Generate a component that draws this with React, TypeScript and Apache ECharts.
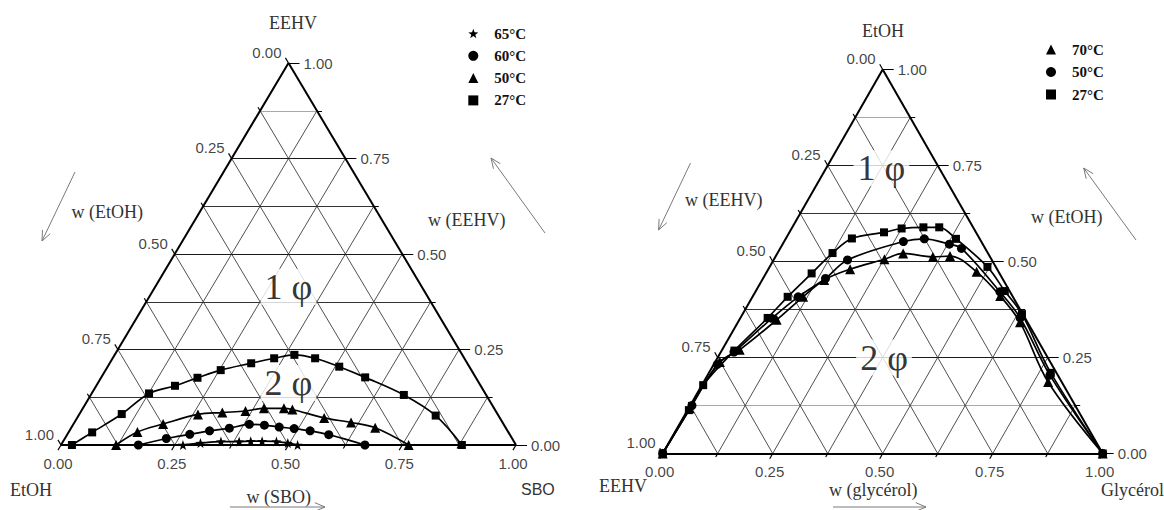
import React, { useEffect, useRef } from "react";
import * as echarts from "echarts";

// ---------------- data ----------------
// Left diagram: vertices EtOH (bottom-left), SBO (bottom-right), EEHV (top)
// every point is [w(SBO), w(EEHV)]
const leftNames = ["65°C", "60°C", "50°C", "27°C"];
const left65 = [
  [0.268, 0], [0.304, 0.005], [0.347, 0.009], [0.387, 0.009], [0.412, 0.01],
  [0.437, 0.01], [0.469, 0.009], [0.496, 0.005], [0.52, 0],
];
const left60 = [
  [0.17, 0], [0.223, 0.017], [0.269, 0.028], [0.308, 0.037], [0.348, 0.044],
  [0.387, 0.054], [0.421, 0.052], [0.456, 0.047], [0.491, 0.043], [0.529, 0.037],
  [0.575, 0.027], [0.668, 0],
];
const left50 = [
  [0.121, 0], [0.151, 0.034], [0.197, 0.055], [0.261, 0.08], [0.312, 0.085],
  [0.361, 0.089], [0.398, 0.096], [0.442, 0.096], [0.462, 0.093], [0.543, 0.071],
  [0.608, 0.059], [0.668, 0.045], [0.764, 0],
];
const left27 = [
  [0.024, 0], [0.052, 0.033], [0.093, 0.081], [0.126, 0.135], [0.173, 0.155],
  [0.212, 0.176], [0.253, 0.196], [0.311, 0.214], [0.355, 0.227], [0.395, 0.236],
  [0.445, 0.227], [0.509, 0.205], [0.58, 0.177], [0.688, 0.131], [0.785, 0.077],
  [0.881, 0],
];

// Right diagram: vertices EEHV (bottom-left), Glycérol (bottom-right), EtOH (top)
// every point is [w(glycérol), w(EtOH)]
const rightNames = ["70°C", "50°C", "27°C"];
const right70 = [
  [0, 0], [0.002, 0.118], [0.011, 0.238], [0.04, 0.27], [0.085, 0.348],
  [0.115, 0.408], [0.141, 0.452], [0.186, 0.48], [0.251, 0.506], [0.286, 0.521],
  [0.358, 0.512], [0.396, 0.514], [0.477, 0.473], [0.562, 0.41], [0.641, 0.342],
  [0.783, 0.186], [1, 0],
];
const right50 = [
  [0, 0], [0.004, 0.125], [0.008, 0.232], [0.03, 0.264], [0.072, 0.352],
  [0.104, 0.408], [0.142, 0.456], [0.168, 0.504], [0.271, 0.552], [0.315, 0.559],
  [0.379, 0.545], [0.412, 0.534], [0.556, 0.421], [0.636, 0.353], [0.778, 0.204],
  [1, 0],
];
const right27 = [
  [0, 0], [0.003, 0.113], [0.003, 0.178], [0.029, 0.268], [0.062, 0.353],
  [0.08, 0.408], [0.104, 0.469], [0.125, 0.522], [0.15, 0.56], [0.215, 0.576],
  [0.25, 0.586], [0.298, 0.589], [0.334, 0.589], [0.387, 0.559], [0.495, 0.486],
  [0.566, 0.423], [0.635, 0.363], [0.777, 0.21], [1, 0],
];

const majorTicks = [0, 0.25, 0.5, 0.75, 1];
const allTicks = [0, 0.125, 0.25, 0.375, 0.5, 0.625, 0.75, 0.875, 1];
const gridSteps = [0.125, 0.25, 0.375, 0.5, 0.625, 0.75, 0.875];

// ---------------- layout / style ----------------
const SERIF = '"Liberation Serif", "Times New Roman", serif';
const SANS = '"Liberation Sans", Arial, sans-serif';
const STAR =
  "path://M0,-10L2.35,-3.24L9.51,-3.09L3.8,1.24L5.88,8.09L0,4L-5.88,8.09L-3.8,1.24L-9.51,-3.09L-2.35,-3.24Z";
const PAD = 0.1;
const GEOM = [
  { xL: 61, W: 455, yB: 445, H: 382, light: [0.875] },
  { xL: 662.7, W: 440, yB: 453.5, H: 384, light: [0.875, 0.125] },
];

const toXY = (p: number[]) => [p[0] + p[1] / 2, p[1]];
const fmt = (v: number) => v.toFixed(2);

function frameSeries(i: number): any[] {
  const g = GEOM[i];
  const D = Math.sqrt(0.25 * g.W * g.W + g.H * g.H);
  const gridData: any[] = [];
  gridSteps.forEach((f) => {
    const light = g.light.indexOf(f) >= 0;
    const major = Math.abs(f * 4 - Math.round(f * 4)) < 1e-9;
    gridData.push({
      coords: [[f / 2, f], [1 - f / 2, f]],
      lineStyle: { color: light ? "#a8a8a8" : major ? "#1a1a1a" : "#333", width: major ? 1.2 : 1 },
    });
    gridData.push({ coords: [[f, 0], [f + (1 - f) / 2, 1 - f]], lineStyle: { color: "#3c3c3c", width: 0.9 } });
    gridData.push({ coords: [[1 - f, 0], [(1 - f) / 2, 1 - f]], lineStyle: { color: "#3c3c3c", width: 0.9 } });
  });
  const border = [
    [[0, 0], [1, 0]],
    [[1, 0], [0.5, 1]],
    [[0.5, 1], [0, 0]],
  ].map((c) => ({ coords: c }));
  const ticks: any[] = [];
  allTicks.forEach((f) => {
    const major = Math.abs(f * 4 - Math.round(f * 4)) < 1e-9;
    const lr = major ? 11 : 5;
    const d = (major ? 6 : 4) / D;
    ticks.push({ coords: [[1 - f / 2, f], [1 - f / 2 + lr / g.W, f]] });
    ticks.push({ coords: [[f / 2, f], [f / 2 - 0.5 * d, f + d]] });
    ticks.push({ coords: [[f, 0], [f - 0.5 * d, -d]] });
  });
  const common = {
    type: "lines",
    coordinateSystem: "cartesian2d",
    xAxisIndex: i,
    yAxisIndex: i,
    polyline: false,
    silent: true,
    symbol: ["none", "none"],
  };
  const labelBase = { show: true, formatter: "{b}", fontFamily: SANS, fontSize: 15, color: "#111" };
  const scatterBase = {
    type: "scatter",
    xAxisIndex: i,
    yAxisIndex: i,
    symbolSize: 0,
    silent: true,
    itemStyle: { color: "rgba(0,0,0,0)" },
    z: 3,
  };
  return [
    { ...common, z: 1, lineStyle: { opacity: 1, color: "#444", width: 0.9 }, data: gridData },
    { ...common, z: 3, lineStyle: { opacity: 1, color: "#000", width: 2 }, data: border },
    { ...common, z: 3, lineStyle: { opacity: 1, color: "#000", width: 1.2 }, data: ticks },
    {
      ...scatterBase,
      data: majorTicks.map((t) => ({ value: [t / 2, t], name: fmt(1 - t) })),
      label: { ...labelBase, position: [-7, -11], align: "right", verticalAlign: "middle" },
    },
    {
      ...scatterBase,
      data: majorTicks.map((t) => ({ value: [1 - t / 2, t], name: fmt(t) })),
      label: { ...labelBase, position: [15, 0], align: "left", verticalAlign: "middle" },
    },
    {
      ...scatterBase,
      data: majorTicks.map((t) => ({ value: [t, 0], name: fmt(t) })),
      label: { ...labelBase, position: [-3, 18], align: "center", verticalAlign: "middle" },
    },
  ];
}

function phaseSeries(i: number, pts: number[][]): any {
  return {
    type: "scatter",
    xAxisIndex: i,
    yAxisIndex: i,
    symbolSize: 0,
    silent: true,
    z: 2,
    itemStyle: { color: "rgba(0,0,0,0)" },
    data: pts.map((p, k) => ({ value: p, name: k === 0 ? "1 φ" : "2 φ" })),
    label: {
      show: true,
      formatter: "{b}",
      position: "inside",
      fontFamily: SERIF,
      fontSize: 36,
      color: "#000",
      backgroundColor: "#fff",
      padding: [0, 4],
    },
  };
}

function curve(i: number, name: string, pts: number[][], symbol: string, size: number): any {
  return {
    type: "line",
    name,
    xAxisIndex: i,
    yAxisIndex: i,
    data: pts.map(toXY),
    smooth: 0.35,
    symbol,
    symbolSize: size,
    showAllSymbol: true,
    silent: true,
    z: 4,
    itemStyle: { color: "#000" },
    lineStyle: { color: "#000", width: 1.7 },
  };
}

function arrow(x1: number, y1: number, x2: number, y2: number): any[] {
  const L = Math.hypot(x2 - x1, y2 - y1);
  const bx = (x1 - x2) / L;
  const by = (y1 - y2) / L;
  const h = 11;
  const rot = (a: number) => [
    x2 + h * (bx * Math.cos(a) - by * Math.sin(a)),
    y2 + h * (bx * Math.sin(a) + by * Math.cos(a)),
  ];
  const st = { stroke: "#7a7a7a", lineWidth: 1, fill: null };
  return [
    { type: "line", shape: { x1, y1, x2, y2 }, style: st },
    { type: "polyline", shape: { points: [rot(0.4), [x2, y2], rot(-0.4)] }, style: st },
  ];
}

function label(text: string, x: number, y: number, align = "left", font = SERIF, size = 18): any {
  return {
    type: "text",
    x,
    y,
    style: { text, align, verticalAlign: "middle", font: `${size}px ${font}`, fill: "#333" },
  };
}

function buildOption(): any {
  const grids = GEOM.map((g) => ({
    left: g.xL - PAD * g.W,
    top: g.yB - g.H - PAD * g.H,
    width: g.W * (1 + 2 * PAD),
    height: g.H * (1 + 2 * PAD),
  }));
  const axis = (i: number) => ({ gridIndex: i, type: "value", min: -PAD, max: 1 + PAD, show: false });
  const legendText = {
    fontFamily: SERIF,
    fontWeight: "bold",
    fontSize: 15,
    lineHeight: 15,
    color: "#111",
  };
  return {
    animation: false,
    backgroundColor: "#fff",
    grid: grids,
    xAxis: [axis(0), axis(1)],
    yAxis: [axis(0), axis(1)],
    legend: [
      {
        left: 468.3,
        top: 26,
        orient: "vertical",
        padding: 0,
        itemWidth: 10,
        itemHeight: 10,
        itemGap: 7.3,
        selectedMode: false,
        textStyle: { ...legendText, padding: [0, 0, 0, 11] },
        data: leftNames.map((n, k) => ({ name: n, icon: [STAR, "circle", "triangle", "rect"][k] })),
      },
      {
        left: 1046,
        top: 42,
        orient: "vertical",
        padding: 0,
        itemWidth: 10,
        itemHeight: 10,
        itemGap: 7.5,
        selectedMode: false,
        textStyle: { ...legendText, padding: [0, 0, 0, 11] },
        data: rightNames.map((n, k) => ({ name: n, icon: ["triangle", "circle", "rect"][k] })),
      },
    ],
    series: [
      ...frameSeries(0),
      ...frameSeries(1),
      phaseSeries(0, [[0.5, 0.414], [0.5, 0.162]]),
      phaseSeries(1, [[0.497, 0.743], [0.503, 0.25]]),
      curve(0, leftNames[0], left65, STAR, 10),
      curve(0, leftNames[1], left60, "circle", 9),
      curve(0, leftNames[2], left50, "triangle", 10),
      curve(0, leftNames[3], left27, "rect", 8),
      curve(1, rightNames[0], right70, "triangle", 10),
      curve(1, rightNames[1], right50, "circle", 9),
      curve(1, rightNames[2], right27, "rect", 8),
    ],
    graphic: [
      label("EEHV", 293, 23, "center"),
      label("w (EtOH)", 71.5, 212),
      label("w (EEHV)", 428, 220),
      label("EtOH", 10, 490),
      label("w (SBO)", 246.5, 497),
      label("SBO", 521, 489, "left", SANS, 16),
      label("EtOH", 883, 31, "center"),
      label("w (EEHV)", 685, 200),
      label("w (EtOH)", 1031, 217),
      label("EEHV", 599, 486),
      label("w (glycérol)", 829, 490),
      label("Glycérol", 1101, 490),
      ...arrow(75, 172, 42, 241),
      ...arrow(545, 233, 491, 158),
      ...arrow(230, 507, 325, 507),
      ...arrow(690.5, 163, 658.6, 230),
      ...arrow(1136, 240, 1083.7, 168),
      ...arrow(833, 507, 926, 507),
    ],
  };
}

export default function App() {
  const ref = useRef<HTMLDivElement>(null);
  useEffect(() => {
    const chart = echarts.init(ref.current!, null, { renderer: "svg" });
    chart.setOption(buildOption());
    return () => chart.dispose();
  }, []);
  return (
    <div
      ref={ref}
      style={{ position: "fixed", left: 0, top: 0, width: 1164, height: 510, background: "#fff" }}
    />
  );
}
